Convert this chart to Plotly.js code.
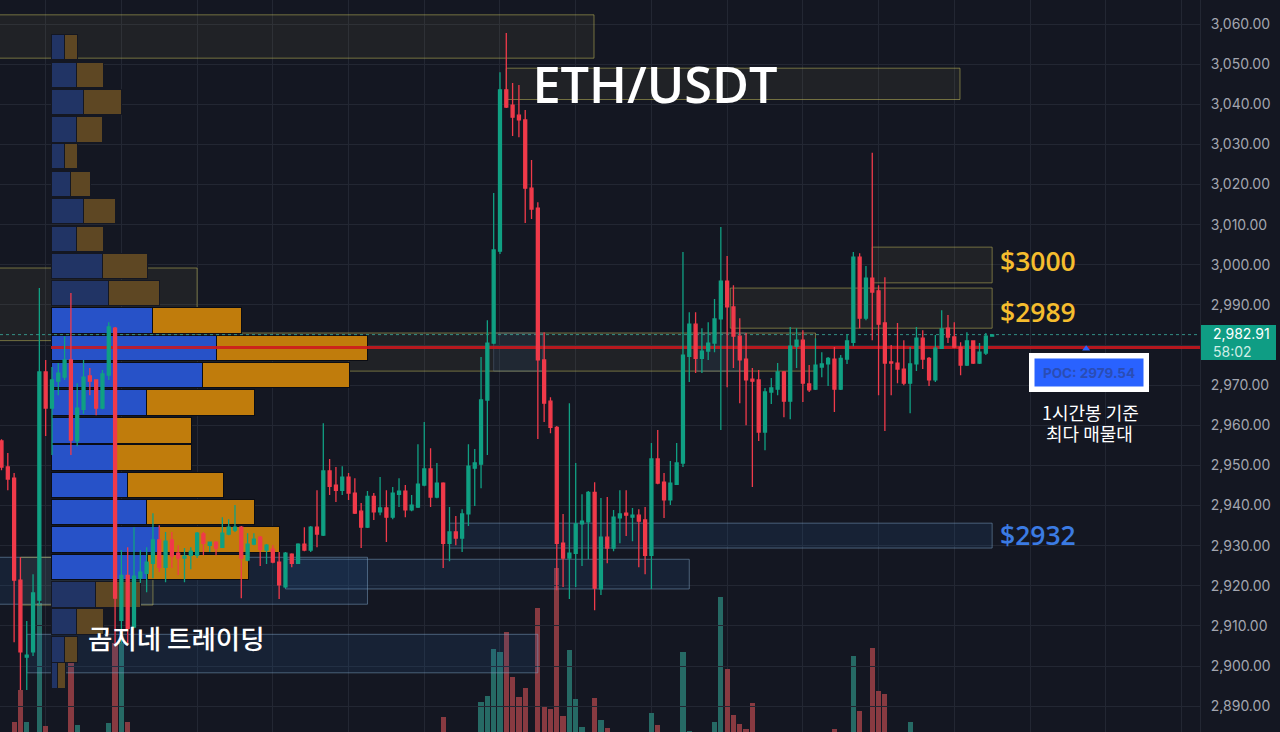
<!DOCTYPE html>
<html>
<head>
<meta charset="utf-8">
<script src="https://cdn.plot.ly/plotly-3.0.1.min.js"></script>
<style>html,body{margin:0;padding:0;background:#141722;overflow:hidden}</style>
</head>
<body>
<div id="chart" style="width:1280px;height:732px"></div>
<script>
// ---- OHLC, one bar per hour ----
const opens = [
2956.1,2949.6,2946.8,2921.4,2902.2,2903.5,2916.4,2973.3,2964.3,2971,
2972,2976.3,2956.1,2964,2972.3,2971.3,2964.3,2972.5,2984.2,2911.4,
2922.6,2909.7,2921.9,2923.1,2925.6,2931.4,2924.6,2931.4,2928.1,2926.9,
2927.6,2927.6,2932.9,2930.1,2930.9,2929.6,2932.9,2933.9,2934.6,2926.4,
2930.4,2932.1,2928.9,2929.1,2925.9,2919.7,2927.9,2925.6,2930.4,2928.9,
2934.6,2932.6,2948.6,2945.1,2943.8,2947.1,2943.1,2938.6,2934.6,2942.3,
2938.4,2939.4,2937.1,2942.8,2943.6,2938.9,2939.6,2945.1,2949.1,2942.1,
2945.6,2930.6,2933.4,2931.9,2937.9,2949.3,2950.3,2966.3,2980.5,3003.4,
3043.6,3039.8,3037.3,3036.1,3019.1,3014.1,2976.3,2966,2959.5,2930.6,
2926.9,2928.1,2935.4,2935.9,2943.3,2919.2,2932.1,2929.4,2936.9,2938.1,
2937.1,2937.6,2936.4,2927.6,2951.6,2945.8,2941.4,2945.3,2950.6,2977.2,
2985.2,2976.7,2978.5,2980.5,2986.5,2995.9,2989.5,2982.2,2976.5,2971.5,
2971.3,2958.3,2968.3,2969,2973.3,2966,2979.7,2981.2,2970.3,2969,
2974.5,2975.3,2976.5,2969,2976.5,2980.7,3001.9,2986.7,2996.7,2993.5,
2985.5,2975.8,2975.5,2974,2970.5,2975.3,2981.7,2976.7,2971.3,2979.2,
2984.2,2982,2979.5,2975,2981,2975.5,2978,2982.2];
const highs = [
2956.5,2953.1,2948.1,2927.1,2911.2,2922.9,2994.2,2976.3,2974.5,2975.5,
2982.2,2993,2970.5,2976.3,2974.3,2971.5,2973.8,2985.7,2984.5,2928.9,
2929.6,2934.6,2928.9,2929.6,2938.1,2935.1,2933.4,2933.4,2930.1,2929.4,
2929.6,2933.4,2933.4,2930.9,2931.1,2937.1,2936.6,2940.1,2934.9,2933.1,
2933.1,2932.4,2930.4,2930.1,2928.4,2928.4,2928.1,2930.6,2934.6,2934.9,
2943.8,2960.5,2951.6,2949.6,2949.8,2948.1,2946.8,2940.6,2943.6,2943.1,
2947.1,2943.8,2944.6,2946.8,2945.1,2942.6,2955.3,2960.8,2954.3,2950.6,
2945.8,2939.6,2937.4,2939.1,2955.3,2954.1,2977,2986.2,3017.9,3048,
3057.8,3045.3,3044.8,3038.6,3026.1,3015.6,2983.2,2967,2959.8,2937.9,
2965.5,2950.6,2942.8,2943.6,2945.8,2941.9,2942.1,2938.9,2943.8,2943.8,
2939.4,2939.1,2939.6,2955.6,2958.8,2948.1,2951.1,2955.6,3003.2,2988.2,
2988.2,2984.2,2985.7,2991.5,3009.4,3002.2,2994.9,2986.7,2983,2974.3,
2973.8,2969.3,2971.8,2975.5,2973.5,2984.5,2984.2,2983.7,2975,2981.7,
2978.2,2977,2979.5,2977.5,2982.7,3003.2,3002.9,2999.7,3027.9,2994.9,
2996.9,2980,2985.5,2981.2,2979.5,2984.5,2983.7,2977,2982.5,2988.7,
2987.5,2985.7,2980.7,2983.2,2981.2,2980.5,2983,2982.7];
const lows = [
2948.8,2943.8,2905.9,2894,2894,2902.5,2915.2,2957.3,2952.6,2967.5,
2971.3,2952.6,2954.8,2962.8,2967.5,2962.5,2964,2971.3,2905.7,2905.7,
2905.7,2909.4,2920.7,2918.4,2921.9,2923.4,2920.9,2924.4,2922.7,2920.9,
2924.1,2926.9,2927.6,2928.4,2927.6,2929.4,2932.6,2933.4,2916.9,2926.1,
2930.1,2924.9,2925.4,2925.6,2916.7,2919.4,2924.6,2925.4,2928.6,2928.4,
2929.6,2932.4,2942.6,2940.9,2942.6,2941.4,2937.9,2929.4,2934.4,2936.4,
2937.6,2930.9,2936.6,2939.6,2937.1,2938.6,2939.4,2944.8,2939.6,2941.8,
2924.4,2926.1,2930.1,2928.4,2934.9,2939.9,2944.3,2952.6,2980.2,3002.7,
3039.1,3032.1,3031.8,3010.4,3011.4,2956.6,2960.8,2958,2918.9,2919.7,
2916.7,2919.7,2924.9,2926.6,2913.9,2917.7,2925.6,2928.6,2930.6,2932.4,
2931.1,2924.6,2922.9,2919.2,2945.3,2936.9,2940.1,2945.1,2949.6,2970.8,
2973,2973,2976.3,2978.2,2958.8,2969.5,2974.3,2965.5,2960,2944.6,
2956.1,2953.8,2965.3,2967.5,2962,2961.5,2974.3,2965.8,2968.3,2968.8,
2972,2969.8,2963.3,2968.8,2975.3,2979.7,2984.2,2986.2,2981.2,2967.5,
2958.6,2967.5,2970.5,2970,2963,2973.5,2974,2969.8,2970.8,2979,
2980.5,2979.2,2972.5,2974.8,2975.3,2975.3,2977.5,2982.2];
const closes = [
2949.6,2946.6,2921.4,2903.5,2902.7,2918.2,2973.3,2964.3,2971.3,2973,
2976.3,2956.3,2964.3,2972,2971,2964.3,2972.8,2984.5,2916.9,2922.6,
2909.4,2922.4,2923.4,2925.9,2931.4,2924.6,2931.1,2927.4,2926.9,2927.4,
2928.6,2933.1,2930.6,2930.9,2929.4,2933.1,2934.6,2934.6,2926.9,2930.4,
2931.6,2929.1,2930.1,2925.9,2920.2,2928.1,2925.6,2930.4,2928.9,2934.6,
2932.9,2948.6,2944.8,2943.8,2947.1,2943.1,2938.1,2934.6,2942.3,2938.4,
2939.4,2937.1,2943.1,2943.6,2938.9,2940.1,2945.3,2949.1,2942.1,2945.6,
2930.6,2933.4,2931.9,2937.9,2949.8,2950.6,2966.3,2980.5,3003.7,3043.6,
3039.3,3036.8,3036.1,3019.1,3013.9,2976.3,2965.5,2959.5,2930.6,2926.9,
2928.1,2935.4,2936.1,2943.3,2919.4,2932.1,2929.4,2937.1,2937.9,2937.6,
2937.6,2936.1,2927.6,2951.6,2945.6,2941.4,2945.6,2950.6,2977.5,2985.2,
2976.7,2978.5,2980.5,2986.5,2995.9,2989.5,2982.2,2976.3,2971.3,2971,
2958.3,2968.3,2969.3,2973.3,2966,2979.7,2981.2,2970.5,2968.8,2975,
2975.3,2976.7,2969,2976.7,2981,3001.9,2986.7,2996.7,2993.2,2985.2,
2975.5,2975.5,2974,2970.5,2975.3,2981.7,2976.5,2971.3,2979.2,2984,
2982,2979.5,2975,2981,2975.5,2978.2,2982.2,2982.5];

// ---- volume pane, only the bars that reach into the frame ----
const volumeIndex = [2,3,4,6,7,11,12,17,18,19,20,70,76,77,78,79,80,81,82,83,85,86,87,88,89,90,91,92,94,95,96,103,104,108,109,113,114,115,116,117,118,119,132,135,136,138,139,140,144];
const volumeValue = [3.3,14,3.3,43,2,28,2.3,3,29.7,29.7,3.3,5,10,12,27.7,26.7,33.3,18.3,11.7,14.7,41.3,8.3,7.7,54.7,5.3,27.3,11,1.7,11.3,4,1.3,6.3,2.3,26.7,0.3,3.3,45,21,5.7,2.7,1,9.7,1,25.3,7,28,13.7,12.7,3.3];

// ---- volume profile ----
const profilePrice = [3054.3,3047.3,3040.6,3033.8,3027.1,3020.1,3013.4,3006.4,2999.7,2993,2986.1,2979.3,2972.5,2965.6,2958.7,2952,2945.1,2938.4,2931.5,2924.7,2917.9,2911.1,2904.1,2897.6];
const profileBuy  = [13,25,32,25,13,19,32,25,51,57,101,165,151,95,64,64,76,95,108,96,44,25,13,6];
const profileSell = [13,27,38,26,13,20,32,27,45,51,89,151,147,108,76,76,96,108,120,101,45,27,13,8];
const inValueArea = [0,0,0,0,0,0,0,0,0,0,1,1,1,1,1,1,1,1,1,1,0,0,0,0];

// ---- zones (candle index span, price span) ----
const zoneStart = [-2,80,-2,18,115.5,138,71,45,-2,3,4,78,110.2];
const zoneEnd   = [93.9,151.9,31,129,157,157,157,109,58,24,85,85.8,118];
const zoneLow   = [3051.5,3041.2,2981.1,2973.5,2984.2,2995.5,2929.4,2919.2,2915.4,2915.2,2898.3,2973.5,2973.5];
const zoneHigh  = [3062.3,3049,2999.2,2983,2994.2,3004.4,2935.6,2926.6,2927.1,2927.1,2907.9,2983,2983];
const zoneKind  = ['y','y','y','y','y','y','b','b','b','y','b','f','f'];

// ---- axis labels and key levels ----
const gridIndex = [7,19,31,43,55,67,79,91,103,115,127,139,151,163,175,187];
const priceTicks = [2890,2900,2910,2920,2930,2940,2950,2960,2970,2990,3000,3010,3020,3030,3040,3050,3060];
const hiddenGridPrice = [2980];
const lastPrice = 2982.6;
const pocPrice = 2979.4;

const idx = opens.map((_, i) => i);
const BG = '#141722', GRID = '#232733';
const indexRange = [-0.238, 189.94];
const profileRange = [-51, 1149];
const GREEN = '#10a083', RED = '#f03a4a';

const zoneLine = {y: 'rgba(190,182,90,0.55)', b: 'rgba(130,165,200,0.5)', f: 'rgba(130,165,200,0.25)'};
const zoneFill = {y: 'rgba(190,180,90,0.075)', b: 'rgba(40,100,170,0.15)', f: 'rgba(40,100,170,0.10)'};

const traces = [];
traces.push({
  type: 'bar', xaxis: 'x', yaxis: 'y2', x: volumeIndex, y: volumeValue, width: 0.82,
  marker: {color: volumeIndex.map(i => closes[i] >= opens[i] ? '#266a65' : '#883a41'), line: {width: 0}},
  hoverinfo: 'skip', showlegend: false
});
zoneStart.forEach((s, k) => {
  const kind = zoneKind[k];
  traces.push({
    type: 'scatter', mode: 'lines', xaxis: 'x2', yaxis: 'y', fill: 'toself',
    x: [s, zoneEnd[k], zoneEnd[k], s, s],
    y: [zoneLow[k], zoneLow[k], zoneHigh[k], zoneHigh[k], zoneLow[k]],
    line: {color: zoneLine[kind], width: 1},
    fillcolor: zoneFill[kind],
    hoverinfo: 'skip', showlegend: false
  });
});
const rowEdge = inValueArea.map(f => f ? '#0b0d14' : '#141722');
traces.push({
  type: 'bar', orientation: 'h', xaxis: 'x3', yaxis: 'y', x: profileBuy, y: profilePrice, width: 6.4,
  marker: {color: inValueArea.map(f => f ? '#2752c8' : '#213465'), line: {color: rowEdge, width: 1}},
  hoverinfo: 'skip', showlegend: false
});
traces.push({
  type: 'bar', orientation: 'h', xaxis: 'x3', yaxis: 'y', x: profileSell, y: profilePrice, width: 6.4,
  marker: {color: inValueArea.map(f => f ? '#c07c0c' : '#5e4723'), line: {color: rowEdge, width: 1}},
  hoverinfo: 'skip', showlegend: false
});
traces.push({
  type: 'scatter', mode: 'lines', xaxis: 'x3', yaxis: 'y', x: [0, 1149], y: [pocPrice, pocPrice],
  line: {color: 'rgba(205,24,30,0.88)', width: 3}, hoverinfo: 'skip', showlegend: false
});
traces.push({
  type: 'scatter', mode: 'lines', xaxis: 'x3', yaxis: 'y', x: profileRange, y: [lastPrice, lastPrice],
  line: {color: 'rgba(60,180,165,0.75)', width: 1, dash: 'dot'}, hoverinfo: 'skip', showlegend: false
});
traces.push({
  type: 'scatter', mode: 'markers', xaxis: 'x4', yaxis: 'y', x: [171.9], y: [2979.1],
  marker: {symbol: 'triangle-up', size: 7, color: '#2962ff'}, hoverinfo: 'skip', showlegend: false
});
traces.push({
  type: 'candlestick', xaxis: 'x4', yaxis: 'y', x: idx, open: opens, high: highs, low: lows, close: closes,
  whiskerwidth: 0,
  increasing: {line: {color: GREEN, width: 1.3}, fillcolor: GREEN},
  decreasing: {line: {color: RED, width: 1.3}, fillcolor: RED},
  hoverinfo: 'skip', showlegend: false
});

const layout = {
  width: 1280, height: 732,
  margin: {l: 0, r: 80, t: 0, b: 0, pad: 0},
  paper_bgcolor: BG, plot_bgcolor: 'rgba(0,0,0,0)',
  boxgap: 0.33, barmode: 'stack', dragmode: false, hovermode: false, showlegend: false,
  title: {text: 'ETH/USDT', x: 655/1280, y: 1-85/732, xanchor: 'center', yanchor: 'middle',
          font: {family: '"Open Sans"', size: 50.5, weight: 600, color: '#ffffff'}},
  xaxis: {range: indexRange, tickmode: 'array', tickvals: gridIndex, showticklabels: false, ticks: '',
          showgrid: true, gridcolor: GRID, gridwidth: 1, zeroline: false, showline: false, rangeslider: {visible: false}},
  xaxis2: {range: indexRange, overlaying: 'x', visible: false},
  xaxis3: {range: profileRange, overlaying: 'x', visible: false},
  xaxis4: {range: indexRange, overlaying: 'x', visible: false, rangeslider: {visible: false}},
  yaxis: {range: [2883.55, 3066.0], side: 'right', tickmode: 'array', tickvals: priceTicks, tickformat: ',.2f',
          ticks: 'outside', ticklen: 7, tickcolor: 'rgba(0,0,0,0)',
          tickfont: {family: 'Inter', size: 14, color: '#a3a6b0'},
          minor: {tickmode: 'array', tickvals: hiddenGridPrice, showgrid: true, gridcolor: GRID, ticks: ''},
          showgrid: true, gridcolor: GRID, gridwidth: 1, zeroline: false, showline: true, linecolor: '#232733', linewidth: 1},
  yaxis2: {range: [0, 244], overlaying: 'y', visible: false},
  shapes: [
    {type: 'rect', xref: 'paper', yref: 'paper', x0: 1201/1200, x1: 1276/1200, y0: 1-325/732, y1: 1-360/732,
     fillcolor: '#0f9d84', line: {width: 0}, layer: 'above'}
  ],
  annotations: [
    {xref: 'paper', yref: 'paper', x: 998/1200, y: 1-261/732, xanchor: 'left', yanchor: 'middle', showarrow: false,
     text: '$3000', font: {family: '"Open Sans"', size: 26.5, weight: 600, color: '#f5bd2e'}},
    {xref: 'paper', yref: 'paper', x: 998/1200, y: 1-312/732, xanchor: 'left', yanchor: 'middle', showarrow: false,
     text: '$2989', font: {family: '"Open Sans"', size: 26.5, weight: 600, color: '#f5bd2e'}},
    {xref: 'paper', yref: 'paper', x: 998/1200, y: 1-535/732, xanchor: 'left', yanchor: 'middle', showarrow: false,
     text: '$2932', font: {family: '"Open Sans"', size: 26.5, weight: 600, color: '#3b7be3'}},
    {xref: 'paper', yref: 'paper', x: 176/1200, y: 1-637/732, xanchor: 'center', yanchor: 'middle', showarrow: false,
     text: '곰지네 트레이딩', font: {family: '"Noto Sans CJK KR"', size: 26.5, weight: 500, color: '#ffffff'}},
    {xref: 'paper', yref: 'paper', x: 1090/1200, y: 1-412/732, xanchor: 'center', yanchor: 'middle', showarrow: false,
     text: '1시간봉 기준', font: {family: '"Noto Sans CJK KR"', size: 18, color: '#ffffff'}},
    {xref: 'paper', yref: 'paper', x: 1089/1200, y: 1-433/732, xanchor: 'center', yanchor: 'middle', showarrow: false,
     text: '최다 매물대', font: {family: '"Noto Sans CJK KR"', size: 18, color: '#ffffff'}},
    {xref: 'paper', yref: 'paper', x: 1088.5/1200, y: 1-372/732, xanchor: 'center', yanchor: 'middle', showarrow: false,
     width: 109, height: 28, borderwidth: 5.5, bordercolor: '#ffffff', bgcolor: '#2962ff', borderpad: 0,
     text: '<b>POC: 2979.54</b>', font: {family: 'Inter', size: 13.5, color: '#2a4db5'}},
    {xref: 'paper', yref: 'paper', x: 1211/1200, y: 1-334/732, xanchor: 'left', yanchor: 'middle', showarrow: false,
     text: '2,982.91', font: {family: 'Inter', size: 14, color: '#ffffff'}},
    {xref: 'paper', yref: 'paper', x: 1211/1200, y: 1-351/732, xanchor: 'left', yanchor: 'middle', showarrow: false,
     text: '58:02', font: {family: 'Inter', size: 14, color: '#cfeee7'}}
  ]
};

Plotly.newPlot('chart', traces, layout, {displayModeBar: false, responsive: false});
</script>
</body>
</html>
